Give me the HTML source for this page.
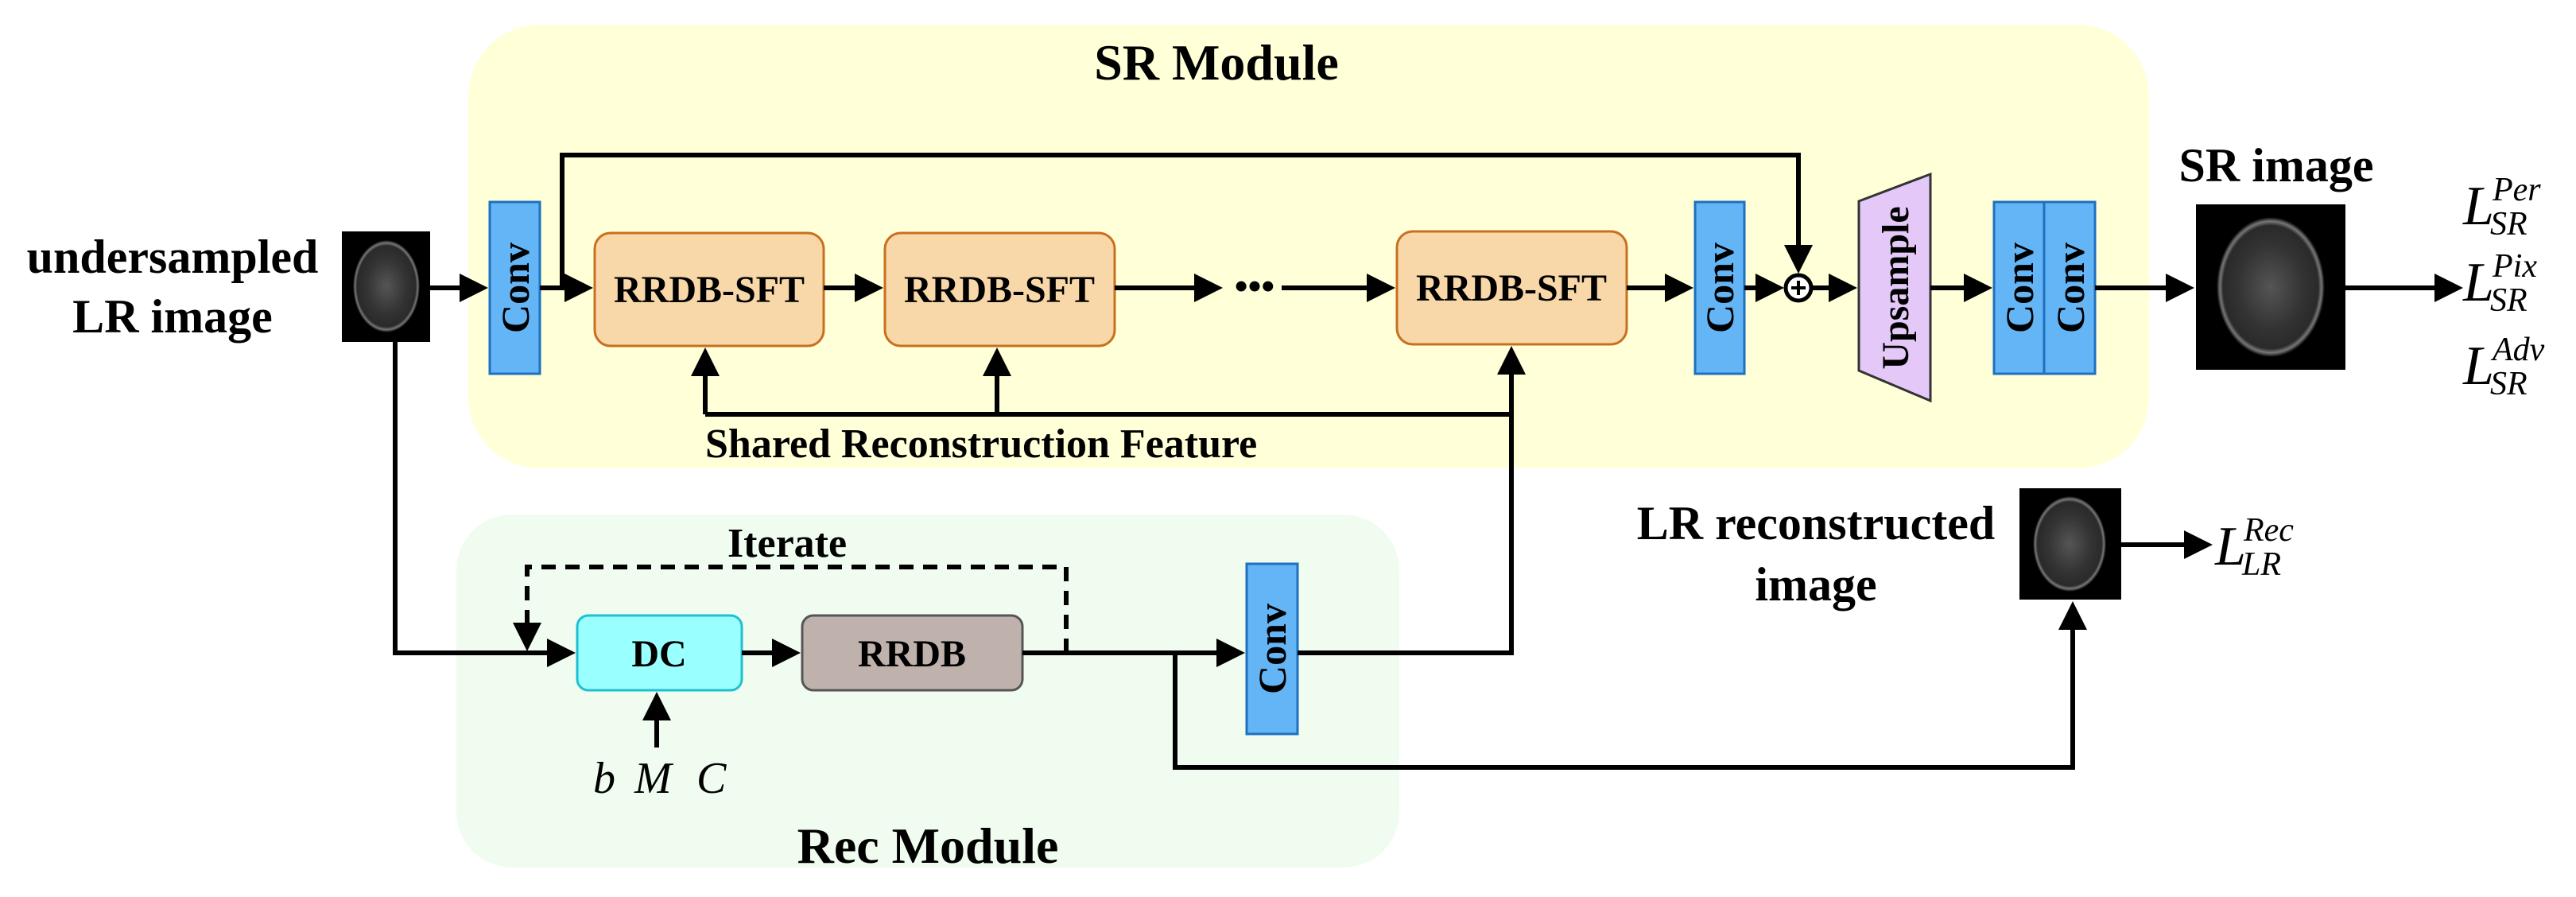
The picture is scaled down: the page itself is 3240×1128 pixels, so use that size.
<!DOCTYPE html>
<html><head><meta charset="utf-8"><style>
html,body{margin:0;padding:0;background:#fff;}
svg{display:block;}
.t{font-family:"Liberation Serif",serif;font-weight:bold;fill:#000;}
.m{font-family:"Liberation Serif",serif;font-style:italic;fill:#000;}
</style></head><body>
<svg width="3240" height="1128" viewBox="0 0 3240 1128" xmlns="http://www.w3.org/2000/svg">
<defs>
<marker id="a" markerWidth="6" markerHeight="6" refX="5" refY="3" orient="auto" markerUnits="strokeWidth"><path d="M0,0 L6,3 L0,6 z" fill="#000"/></marker>
<radialGradient id="br" cx="0.5" cy="0.5" r="0.5"><stop offset="0" stop-color="#555"/><stop offset="0.6" stop-color="#333"/><stop offset="0.88" stop-color="#2a2a2a"/><stop offset="0.94" stop-color="#777"/><stop offset="1" stop-color="#000"/></radialGradient>
</defs>
<rect x="589" y="31" width="2114" height="558" rx="90" fill="#ffffd8"/>
<rect x="574" y="647" width="1186" height="444" rx="70" fill="#f1fcf0"/>
<text class="t" x="1530" y="100" font-size="64" text-anchor="middle">SR Module</text>
<text class="t" x="1167" y="1085" font-size="64" text-anchor="middle">Rec Module</text>
<text class="t" x="217" y="343" font-size="60" text-anchor="middle">undersampled</text>
<text class="t" x="217" y="418" font-size="60" text-anchor="middle">LR image</text>
<rect x="430" y="291" width="111" height="139" fill="#000"/>
<ellipse cx="486" cy="360" rx="42" ry="58" fill="url(#br)"/>
<rect x="616" y="254" width="63" height="216" fill="#64b5f6" stroke="#1e70c0" stroke-width="3"/>
<text class="t" font-size="50" transform="translate(665,362) rotate(-90)" text-anchor="middle">Conv</text>
<rect x="748" y="293" width="288" height="142" rx="20" fill="#f8d7a8" stroke="#c87020" stroke-width="3"/>
<text class="t" x="892" y="380" font-size="48" text-anchor="middle">RRDB-SFT</text>
<rect x="1113" y="293" width="289" height="142" rx="20" fill="#f8d7a8" stroke="#c87020" stroke-width="3"/>
<text class="t" x="1257" y="380" font-size="48" text-anchor="middle">RRDB-SFT</text>
<rect x="1757" y="291" width="289" height="142" rx="20" fill="#f8d7a8" stroke="#c87020" stroke-width="3"/>
<text class="t" x="1901" y="378" font-size="48" text-anchor="middle">RRDB-SFT</text>
<text class="t" x="1578" y="376" font-size="48" text-anchor="middle">•••</text>
<rect x="2132" y="254" width="62" height="216" fill="#64b5f6" stroke="#1e70c0" stroke-width="3"/>
<text class="t" font-size="50" transform="translate(2180,362) rotate(-90)" text-anchor="middle">Conv</text>
<circle cx="2262" cy="362" r="16" fill="#fff" stroke="#000" stroke-width="5"/>
<path d="M2253,362 H2271 M2262,353 V371" stroke="#000" stroke-width="4"/>
<polygon points="2338,253 2428,219 2428,504 2338,466" fill="#e3c8f8" stroke="#333" stroke-width="3"/>
<text class="t" font-size="48" transform="translate(2400,362) rotate(-90)" text-anchor="middle">Upsample</text>
<rect x="2508" y="254" width="63" height="216" fill="#64b5f6" stroke="#1e70c0" stroke-width="3"/>
<rect x="2571" y="254" width="64" height="216" fill="#64b5f6" stroke="#1e70c0" stroke-width="3"/>
<text class="t" font-size="50" transform="translate(2557,362) rotate(-90)" text-anchor="middle">Conv</text>
<text class="t" font-size="50" transform="translate(2621,362) rotate(-90)" text-anchor="middle">Conv</text>
<text class="t" x="2863" y="228" font-size="60" text-anchor="middle">SR image</text>
<rect x="2762" y="257" width="188" height="208" fill="#000"/>
<ellipse cx="2856" cy="361" rx="68" ry="88" fill="url(#br)"/>
<g class="m" font-size="70">
<text x="3098" y="282">L</text><text x="3135" y="252" font-size="42">Per</text><text x="3132" y="295" font-size="42">SR</text>
<text x="3098" y="378">L</text><text x="3135" y="348" font-size="42">Pix</text><text x="3132" y="391" font-size="42">SR</text>
<text x="3098" y="483">L</text><text x="3135" y="453" font-size="42">Adv</text><text x="3132" y="496" font-size="42">SR</text>
<text x="2786" y="710">L</text><text x="2822" y="680" font-size="42">Rec</text><text x="2820" y="723" font-size="42">LR</text>
</g>
<text class="t" x="2284" y="678" font-size="60" text-anchor="middle">LR reconstructed</text>
<text class="t" x="2284" y="755" font-size="60" text-anchor="middle">image</text>
<rect x="2540" y="614" width="128" height="140" fill="#000"/>
<ellipse cx="2603" cy="684" rx="46" ry="60" fill="url(#br)"/>
<text class="t" x="887" y="575" font-size="52">Shared Reconstruction Feature</text>
<text class="t" x="990" y="700" font-size="52" text-anchor="middle">Iterate</text>
<rect x="726" y="774" width="207" height="94" rx="14" fill="#99ffff" stroke="#20c0d0" stroke-width="3"/>
<text class="t" x="829" y="838" font-size="48" text-anchor="middle">DC</text>
<rect x="1009" y="774" width="277" height="94" rx="14" fill="#bfb2ad" stroke="#555" stroke-width="3"/>
<text class="t" x="1147" y="838" font-size="48" text-anchor="middle">RRDB</text>
<rect x="1568" y="709" width="64" height="214" fill="#64b5f6" stroke="#1e70c0" stroke-width="3"/>
<text class="t" font-size="50" transform="translate(1617,816) rotate(-90)" text-anchor="middle">Conv</text>
<g class="m" font-size="56"><text x="746" y="997">b</text><text x="798" y="997">M</text><text x="876" y="997">C</text></g>
<g stroke="#000" stroke-width="6" fill="none">
<path d="M541,362 H608" marker-end="url(#a)"/>
<path d="M679,362 H740" marker-end="url(#a)"/>
<path d="M707,362 V195 H2262 V338" marker-end="url(#a)"/>
<path d="M1036,362 H1105" marker-end="url(#a)"/>
<path d="M1402,362 H1532" marker-end="url(#a)"/>
<path d="M1612,362 H1749" marker-end="url(#a)"/>
<path d="M2046,362 H2124" marker-end="url(#a)"/>
<path d="M2194,362 H2238" marker-end="url(#a)"/>
<path d="M2278,362 H2330" marker-end="url(#a)"/>
<path d="M2428,362 H2500" marker-end="url(#a)"/>
<path d="M2635,362 H2754" marker-end="url(#a)"/>
<path d="M2950,362 H3092" marker-end="url(#a)"/>
<path d="M887,521 H1901"/>
<path d="M887,521 V443" marker-end="url(#a)"/>
<path d="M1254,521 V443" marker-end="url(#a)"/>
<path d="M1632,821 H1901 V441" marker-end="url(#a)"/>
<path d="M497,430 V821 H718" marker-end="url(#a)"/>
<path d="M933,821 H1001" marker-end="url(#a)"/>
<path d="M1286,821 H1560" marker-end="url(#a)"/>
<path d="M1478,821 V965 H2607 V762" marker-end="url(#a)"/>
<path d="M2668,685 H2777" marker-end="url(#a)"/>
<path d="M826,940 V876" marker-end="url(#a)"/>
<path d="M1341,821 V713 H663 V813" stroke-dasharray="18,12" marker-end="url(#a)"/>
</g>
</svg>
</body></html>
